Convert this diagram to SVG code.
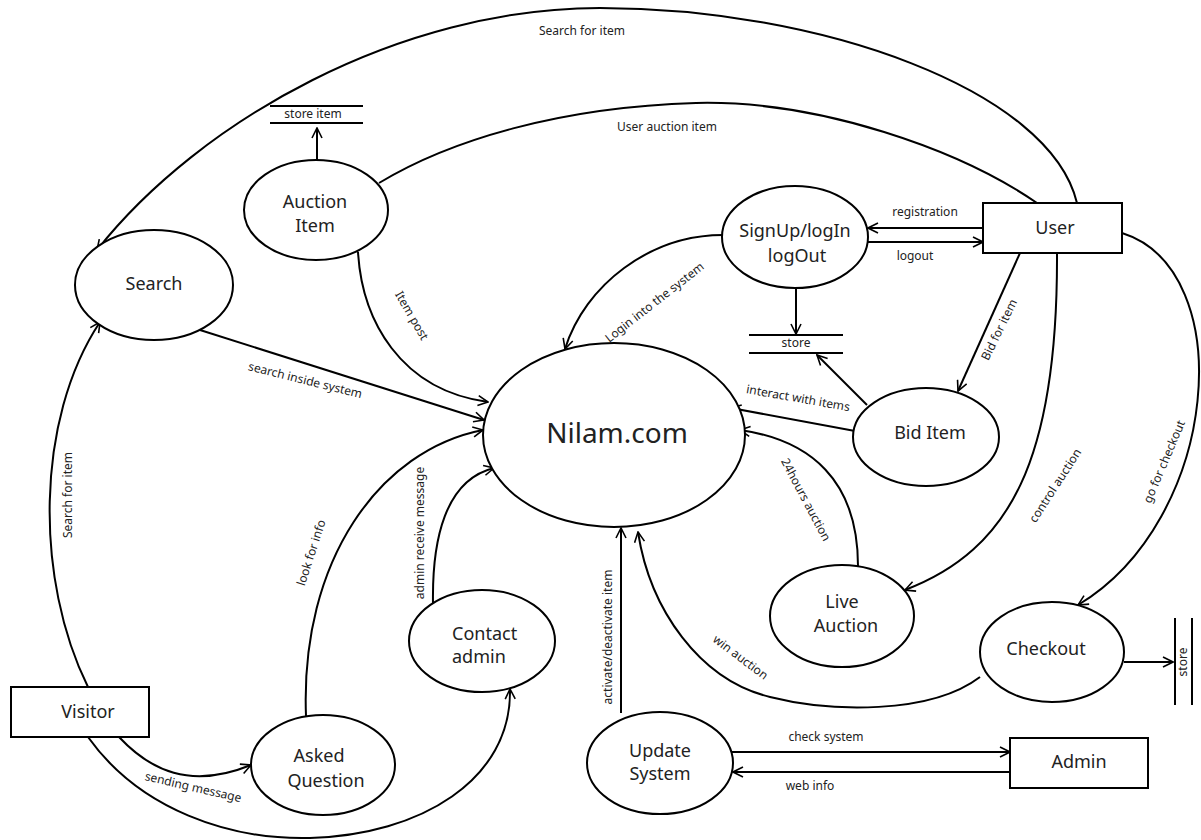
<svg xmlns="http://www.w3.org/2000/svg" width="1201" height="840" viewBox="0 0 1201 840">
<defs>
<marker id="arr" markerWidth="12" markerHeight="12" refX="11" refY="6" orient="auto" markerUnits="userSpaceOnUse">
<path d="M1,1 L11,6 L1,11" fill="none" stroke="#000" stroke-width="1.6"/>
</marker>
<style>
.n{fill:#fff;stroke:#000;stroke-width:2}
.t{font-family:"Segoe UI","Noto Sans","Open Sans",sans-serif;font-size:18px;fill:#222;text-anchor:middle;dominant-baseline:middle}
.big{font-size:28px}
.l{font-family:"Segoe UI","Noto Sans","Open Sans",sans-serif;font-size:12px;fill:#222;text-anchor:middle;dominant-baseline:middle}
.c{fill:none;stroke:#000;stroke-width:2}
.a{marker-end:url(#arr)}
.s{stroke:#000;stroke-width:2}
</style>
</defs>
<rect width="1201" height="840" fill="#fff"/>
<g id="connectors">
<path class="c a" d="M1077,203 C1050,90 820,8 600,8 C400,8 200,120 97,250"/>
<path class="c" d="M1037,203 C960,150 820,100 696,103 C560,107 450,140 379,183"/>
<path class="c a" d="M317,160 L317,128"/>
<path class="c a" d="M358,252 C362,320 400,390 488,402"/>
<path class="c a" d="M200,330 L484,420"/>
<path class="c a" d="M88,687 C35,580 35,420 100,322"/>
<path class="c a" d="M306,716 C300,560 380,450 483,430"/>
<path class="c a" d="M433,603 C432,540 445,480 494,468"/>
<path class="c a" d="M119,737 C150,770 190,790 251,765"/>
<path class="c a" d="M88,737 C140,810 230,840 310,838 C420,835 512,780 510,689"/>
<path class="c a" d="M723,235 C650,235 585,285 565,349"/>
<path class="c a" d="M983,228 L868,228"/>
<path class="c a" d="M868,242 L983,242"/>
<path class="c a" d="M796,286 L796,334"/>
<path class="c a" d="M867,405 L817,355"/>
<path class="c a" d="M855,431 L731,408"/>
<path class="c a" d="M1020,253 L958,391"/>
<path class="c a" d="M858,566 C858,480 810,440 740,430"/>
<path class="c a" d="M1057,253 C1058,460 1010,550 905,590"/>
<path class="c a" d="M1122,233 C1240,270 1220,520 1078,605"/>
<path class="c a" d="M1124,662 L1173,662"/>
<path class="c a" d="M980,677 C930,715 830,712 770,697 C700,680 650,610 638,532"/>
<path class="c a" d="M621,713 L621,528"/>
<path class="c a" d="M731,752 L1010,752"/>
<path class="c a" d="M1010,772 L733,772"/>
<text class="l" x="582" y="32">Search for item</text>
<text class="l" x="667" y="128">User auction item</text>
<text class="l" x="925" y="213">registration</text>
<text class="l" x="915" y="257">logout</text>
<text class="l" transform="translate(655,303) rotate(-38)">Login into the system</text>
<text class="l" transform="translate(411,316) rotate(60)">Item post</text>
<text class="l" transform="translate(305,381) rotate(14)">search inside system</text>
<text class="l" transform="translate(798,399) rotate(10)">interact with items</text>
<text class="l" transform="translate(1000,330) rotate(-64)">Bid for item</text>
<text class="l" transform="translate(805,500) rotate(62)">24hours auction</text>
<text class="l" transform="translate(1056,486) rotate(-57)">control auction</text>
<text class="l" transform="translate(1165,462) rotate(-67)">go for checkout</text>
<text class="l" transform="translate(740,658) rotate(37)">win auction</text>
<text class="l" transform="translate(609,637) rotate(-90)">activate/deactivate item</text>
<text class="l" x="826" y="738">check system</text>
<text class="l" x="810" y="787">web info</text>
<text class="l" transform="translate(69,495) rotate(-90)">Search for item</text>
<text class="l" transform="translate(312,553) rotate(-72)">look for info</text>
<text class="l" transform="translate(421,533) rotate(-90)">admin receive message</text>
<text class="l" transform="translate(193,788) rotate(13)">sending message</text>
</g>
<g id="nilam"><ellipse class="n" cx="614" cy="435" rx="131" ry="92"/><text class="t big" x="617" y="435">Nilam.com</text></g>
<g id="search"><ellipse class="n" cx="154" cy="285" rx="79" ry="55"/><text class="t" x="154" y="285">Search</text></g>
<g id="auction-item"><ellipse class="n" cx="316" cy="210" rx="72" ry="50"/><text class="t" x="315" y="203">Auction</text><text class="t" x="315" y="227">Item</text></g>
<g id="store-item"><line class="s" x1="270" y1="106" x2="363" y2="106"/><line class="s" x1="270" y1="123" x2="363" y2="123"/><text class="l" x="313" y="115">store item</text></g>
<g id="signup"><ellipse class="n" cx="795" cy="237" rx="73" ry="51"/><text class="t" x="795" y="232">SignUp/logIn</text><text class="t" x="797" y="257">logOut</text></g>
<g id="user"><rect class="n" x="983" y="203" width="139" height="50"/><text class="t" x="1055" y="229">User</text></g>
<g id="store"><line class="s" x1="749" y1="335" x2="843" y2="335"/><line class="s" x1="749" y1="353" x2="843" y2="353"/><text class="l" x="796" y="344">store</text></g>
<g id="bid-item"><ellipse class="n" cx="926" cy="437" rx="73" ry="49"/><text class="t" x="930" y="434">Bid Item</text></g>
<g id="live-auction"><ellipse class="n" cx="842" cy="616" rx="72" ry="51"/><text class="t" x="842" y="603">Live</text><text class="t" x="846" y="627">Auction</text></g>
<g id="checkout"><ellipse class="n" cx="1052" cy="652" rx="72" ry="50"/><text class="t" x="1046" y="650">Checkout</text></g>
<g id="store-checkout"><line class="s" x1="1175" y1="618" x2="1175" y2="705"/><line class="s" x1="1192" y1="618" x2="1192" y2="705"/><text class="l" transform="translate(1184,662) rotate(-90)">store</text></g>
<g id="update-system"><ellipse class="n" cx="660" cy="763" rx="73" ry="51"/><text class="t" x="660" y="752">Update</text><text class="t" x="660" y="775">System</text></g>
<g id="admin"><rect class="n" x="1010" y="738" width="138" height="50"/><text class="t" x="1079" y="763">Admin</text></g>
<g id="contact-admin"><ellipse class="n" cx="482" cy="641" rx="73" ry="51"/><text class="t" x="452" y="635" style="text-anchor:start">Contact</text><text class="t" x="452" y="658" style="text-anchor:start">admin</text></g>
<g id="asked-question"><ellipse class="n" cx="323" cy="765" rx="72" ry="50"/><text class="t" x="319" y="757">Asked</text><text class="t" x="326" y="782">Question</text></g>
<g id="visitor"><rect class="n" x="11" y="687" width="138" height="50"/><text class="t" x="88" y="713">Visitor</text></g>
</svg>
